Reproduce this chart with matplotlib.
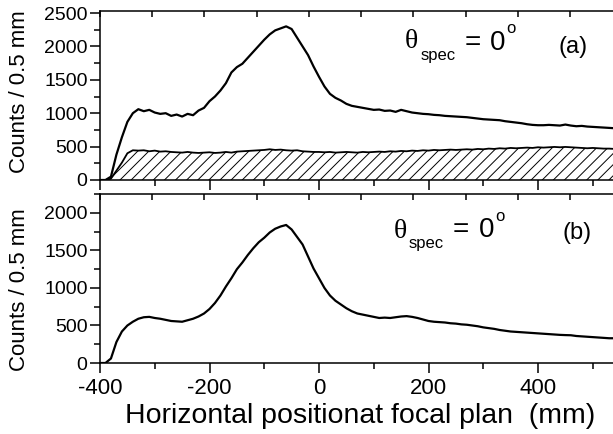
import numpy as np
import matplotlib
matplotlib.use('Agg')
import matplotlib.pyplot as plt
from matplotlib.ticker import MultipleLocator, FixedLocator, NullFormatter

# Horizontal position (mm), one sample every 10 mm
pos = np.arange(-400, 541, 10)

# Panel (a): total spectrum
counts_a = [
    0, 0, 50, 380, 640, 870, 1000, 1060, 1030, 1050,
    1010, 990, 1000, 960, 980, 950, 990, 970, 1040, 1080,
    1180, 1250, 1340, 1450, 1610, 1690, 1740, 1830, 1920, 2010,
    2100, 2180, 2240, 2270, 2300, 2260, 2130, 2000, 1870, 1700,
    1545, 1400, 1290, 1230, 1190, 1140, 1110, 1095, 1080, 1065,
    1050, 1055, 1035, 1040, 1020, 1050, 1030, 1010, 1000, 990,
    985, 975, 970, 960, 955, 950, 945, 940, 930, 920,
    910, 905, 900, 895, 880, 870, 860, 850, 835, 825,
    820, 820, 825, 820, 815, 830, 815, 805, 810, 800,
    795, 790, 785, 780, 775,
]

# Panel (a): hatched background component
background_a = [
    0, 0, 20, 140, 260, 400, 445, 440, 445, 430,
    440, 425, 430, 420, 415, 410, 420, 410, 405, 410,
    415, 405, 410, 420, 410, 425, 430, 435, 440, 445,
    450, 460, 450, 455, 445, 440, 445, 430, 425, 420,
    420, 415, 420, 410, 415, 420, 415, 410, 420, 415,
    420, 425, 420, 430, 425, 435, 430, 440, 435, 445,
    440, 450, 445, 450, 455, 450, 455, 460, 455, 465,
    460, 470, 465, 475, 470, 480, 475, 480, 485, 480,
    490, 485, 490, 495, 490, 495, 490, 485, 480, 475,
    480, 475, 470, 470, 465,
]

# Panel (b): spectrum
counts_b = [
    0, 0, 60, 280, 420, 500, 550, 590, 610, 615,
    600, 590, 575, 560, 555, 550, 570, 590, 620, 660,
    720, 800, 900, 1020, 1130, 1250, 1340, 1440, 1530, 1610,
    1670, 1740, 1790, 1820, 1840, 1780, 1680, 1580, 1420, 1260,
    1130, 1000, 900, 830, 780, 730, 690, 660, 645, 630,
    615, 600, 605, 600, 610, 620, 625, 615, 600, 580,
    560, 550, 545, 540, 530, 525, 515, 510, 500, 490,
    475, 465, 455, 440, 430, 420, 415, 410, 405, 400,
    395, 390, 385, 380, 375, 372, 370, 360, 355, 350,
    345, 340, 335, 330, 330,
]

x_labels = [-400, -200, 0, 200, 400]

W, H = 613, 434
plt.rcParams.update({
    'font.family': ['Liberation Sans', 'DejaVu Sans'],
    'font.size': 14,
    'hatch.linewidth': 0.7,
    'axes.linewidth': 1.1,
    'axes.unicode_minus': False,
})


def frac(x, y):
    """pixel position in the 613x434 picture -> figure fraction"""
    return x / W, 1 - y / H


fig = plt.figure(figsize=(W / 100, H / 100), dpi=100)

# axes run past the right edge of the picture, as in the original crop
left = 100 / W
width = 547.5 / W
ax_a = fig.add_axes([left, 1 - 180 / H, width, (180 - 11) / H])
ax_b = fig.add_axes([left, 1 - 363 / H, width, (363 - 194) / H])

ax_a.plot(pos, counts_a, color='black', lw=1.6)
ax_a.plot(pos, background_a, color='black', lw=1.3)
ax_a.fill_between(pos, 0, background_a, facecolor='none', edgecolor='black',
                  hatch='///', linewidth=0)
ax_b.plot(pos, counts_b, color='black', lw=1.6)

ax_a.set_ylim(0, 2530)
ax_b.set_ylim(0, 2253)

for ax in (ax_a, ax_b):
    ax.set_xlim(-400, 600)
    ax.xaxis.set_major_locator(FixedLocator(x_labels))
    ax.xaxis.set_minor_locator(MultipleLocator(100))
    ax.yaxis.set_major_locator(MultipleLocator(500))
    ax.yaxis.set_minor_locator(MultipleLocator(250))
    ax.tick_params(which='major', direction='out', length=7, width=1.1, pad=2)
    ax.tick_params(which='minor', direction='out', length=4, width=1.1)
    ax.tick_params(axis='x', which='major', labelsize=16, pad=4)
    # top axis of the original has its own slightly different scale
    top = ax.secondary_xaxis('top')
    top.xaxis.set_major_locator(FixedLocator(np.arange(-400, 600, 95.4)))
    top.xaxis.set_major_formatter(NullFormatter())
    top.tick_params(direction='in', length=4, width=1.1)
    top.spines['top'].set_visible(False)

ax_a.xaxis.set_major_formatter(NullFormatter())

fig.text(*frac(19.5, 92), 'Counts / 0.5 mm', rotation=90, ha='center',
         va='center', fontsize=16)
fig.text(*frac(19.5, 290), 'Counts / 0.5 mm', rotation=90, ha='center',
         va='center', fontsize=16)
fig.text(*frac(360, 423), 'Horizontal positionat focal plan  (mm)',
         ha='center', va='baseline', fontsize=20.5)

# theta_spec = 0 deg labels
for (tx, ty, sx, sy, qx, zx, zy, ox, oy, lx, ly, tag) in [
        (405, 42, 421, 60, 465, 490, 50, 506, 33, 559, 47, '(a)'),
        (394, 231, 409, 248, 453, 479, 237, 495, 221, 562, 233, '(b)')]:
    fig.text(*frac(tx, ty), '\u03b8', family=['Liberation Serif', 'DejaVu Serif'],
             fontsize=20, ha='left', va='center')
    fig.text(*frac(sx, sy), 'spec', fontsize=12, ha='left', va='baseline')
    fig.text(*frac(qx, zy), '=', fontsize=20, ha='left', va='baseline')
    fig.text(*frac(zx, zy), '0', fontsize=20, ha='left', va='baseline')
    fig.text(*frac(ox, oy), 'o', fontsize=12, ha='left', va='baseline')
    fig.text(*frac(lx, ly), tag, fontsize=17, ha='left', va='center')

fig.savefig('out.png', dpi=100, facecolor='white')
